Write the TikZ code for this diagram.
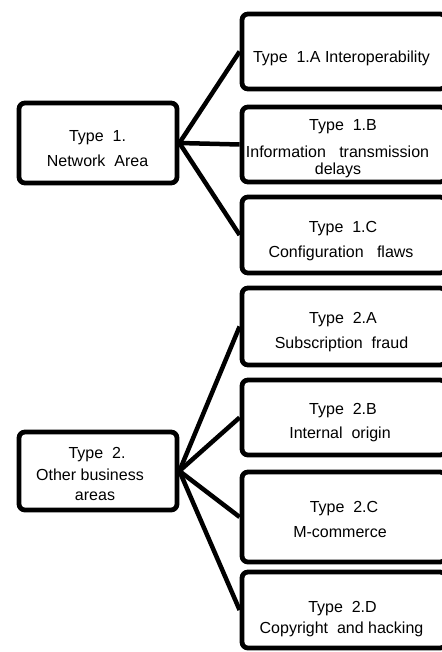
\documentclass[tikz,border=0pt]{standalone}
\usepackage{fontspec}
\setmainfont{Liberation Sans}
\begin{document}
\begin{tikzpicture}[x=1pt,y=-1pt,
  box/.style={draw=black, line width=4.8pt, rounded corners=6pt, inner sep=0pt},
  rbox/.style={box, minimum width=204pt},
  lbox/.style={box, minimum width=158pt},
  conn/.style={draw=black, line width=4.5pt},
  txt/.style={anchor=base, inner sep=0pt, font=\fontsize{16}{19}\selectfont}]
\useasboundingbox (0,0) rectangle (441,652);
% left boxes
\node[lbox, minimum height=80pt] (L1) at (98,143) {};
\node[lbox, minimum height=78pt] (L2) at (98,471) {};
% right boxes
\node[rbox, minimum height=75pt] (A1) at (344,51.5) {};
\node[rbox, minimum height=75pt] (B1) at (344,144.5) {};
\node[rbox, minimum height=76pt] (C1) at (344,235) {};
\node[rbox, minimum height=77pt] (A2) at (344,326.5) {};
\node[rbox, minimum height=75pt] (B2) at (344,417.5) {};
\node[rbox, minimum height=90pt] (C2) at (344,517) {};
\node[rbox, minimum height=76pt] (D2) at (344,610) {};
% connectors
\draw[conn] (L1.east) -- (A1.west);
\draw[conn] (L1.east) -- (B1.west);
\draw[conn] (L1.east) -- (C1.west);
\draw[conn] (L2.east) -- (A2.west);
\draw[conn] (L2.east) -- (B2.west);
\draw[conn] (L2.east) -- (C2.west);
\draw[conn] (L2.east) -- (D2.west);
% texts
\node[txt] (tL1a) at (97.5,141.7) {Type\ \ 1.};
\node[txt] (tL1b) at (97.5,166.7) {Network\ \ Area};
\node[txt] (tL2a) at (97,458) {Type\ \ 2.};
\node[txt] (tL2b) at (90,480) {Other business};
\node[txt] (tL2c) at (95,500) {areas};
\node[txt] (tA1) at (341.5,63) {Type\ \ 1.A Interoperability};
\node[txt] (tB1a) at (343,131) {Type\ \ 1.B};
\node[txt] (tB1b) at (337.5,158) {Information\ \ \ transmission};
\node[txt] (tB1c) at (338,175) {delays};
\node[txt] (tC1a) at (343,233) {Type\ \ 1.C};
\node[txt] (tC1b) at (341,257.5) {Configuration\ \ \ flaws};
\node[txt] (tA2a) at (343,323) {Type\ \ 2.A};
\node[txt] (tA2b) at (341.5,348) {Subscription\ \ fraud};
\node[txt] (tB2a) at (343,414) {Type\ \ 2.B};
\node[txt] (tB2b) at (340,438) {Internal\ \ origin};
\node[txt] (tC2a) at (344,512) {Type\ \ 2.C};
\node[txt] (tC2b) at (340,537) {M-commerce};
\node[txt] (tD2a) at (342.5,612) {Type\ \ 2.D};
\node[txt] (tD2b) at (341.5,633) {Copyright\ \ and hacking};
\end{tikzpicture}
\end{document}
